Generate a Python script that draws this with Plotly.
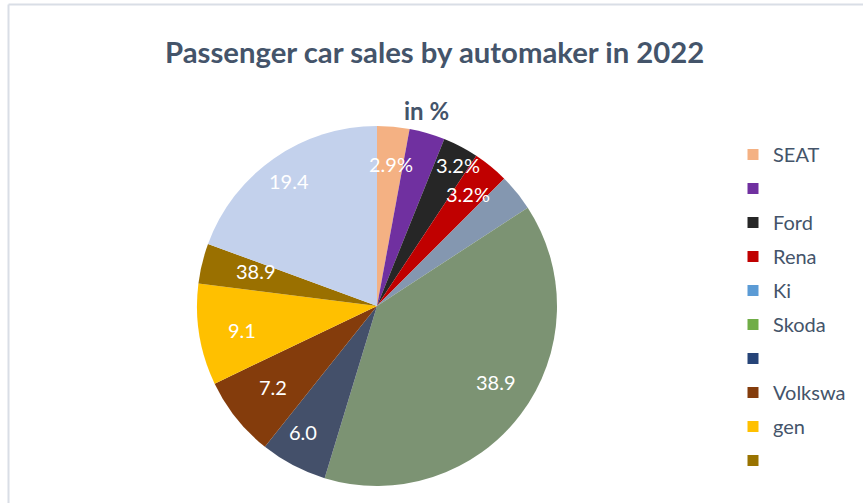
import math
import plotly.graph_objects as go

# ---- data ----
slice_names = ["SEAT", "Purple brand", "Ford", "Renault", "Kia", "Skoda", "Navy brand",
               "Volkswagen", "Yellow brand", "Gold brand", "Other"]
slice_values = [2.9, 3.2, 3.2, 3.2, 3.3, 38.9, 6.0, 7.2, 9.1, 3.6, 19.4]
slice_text = ["2.9%", "", "3.2%", "3.2%", "", "38.9", "6.0", "7.2", "9.1", "38.9", "19.4"]
slice_colors = ["#F4B183", "#7030A0", "#262626", "#C00000", "#8497B0", "#7C9373",
                "#44506A", "#843C0C", "#FFC000", "#9A7000", "#C3D1EC"]

legend_labels = ["SEAT", " ", "Ford", "Rena", "Ki", "Skoda", "  ", "Volkswa", "gen", "   "]
legend_colors = ["#F4B183", "#7030A0", "#262626", "#C00000", "#5B9BD5", "#70AD47",
                 "#264478", "#843C0C", "#FFC000", "#997300"]

title_text = "Passenger car sales by automaker in 2022"
subtitle_text = "in %"

# ---- layout geometry / styling ----
W, H = 863, 503
CX, CY, R = 377, 306, 180   # pie centre / radius in px (from top-left)
TXT = "#44546A"
# radial position of each data label, as a fraction of the radius
label_radius = [0.87, 0.85, 0.97, 0.80, 0.85, 0.83, 0.88, 0.85, 0.85, 0.82, 0.85]

fig = go.Figure()
fig.add_trace(go.Pie(
    labels=slice_names, values=slice_values,
    marker=dict(colors=slice_colors, line=dict(width=0)),
    sort=False, direction="clockwise", rotation=0,
    textinfo="none", hoverinfo="label+value", showlegend=False,
    domain=dict(x=[(CX - R) / W, (CX + R) / W], y=[(H - CY - R) / H, (H - CY + R) / H]),
))

for lab, col in zip(legend_labels, legend_colors):
    fig.add_trace(go.Scatter(
        x=[None], y=[None], mode="markers", name=lab, legendgroup=lab,
        marker=dict(symbol="square", size=11, color=col),
    ))

# data labels placed at each slice's mid angle
total = sum(slice_values)
cum = 0.0
for v, t, rf in zip(slice_values, slice_text, label_radius):
    mid = (cum + v / 2) / total * 2 * math.pi
    cum += v
    if not t:
        continue
    px = CX + rf * R * math.sin(mid)
    py = CY - rf * R * math.cos(mid)
    fig.add_annotation(x=px / W, y=1 - py / H, xref="paper", yref="paper",
                       text=t, showarrow=False,
                       font=dict(family="Lato", size=20, color="white"))

fig.add_annotation(x=434 / W, y=1 - 52 / H, xref="paper", yref="paper",
                   text="<b>" + title_text + "</b>",
                   showarrow=False, font=dict(family="Lato", size=29.3, color=TXT),
                   xanchor="center", yanchor="middle")
fig.add_annotation(x=426 / W, y=1 - 127 / H, xref="paper", yref="paper",
                   text="<b>" + subtitle_text + "</b>",
                   showarrow=False, font=dict(family="Lato", size=24, color=TXT),
                   xanchor="center", yanchor="bottom")

fig.add_shape(type="line", xref="paper", yref="paper",
              x0=8.5 / W, x1=1.01, y0=1 - 4.5 / H, y1=1 - 4.5 / H,
              line=dict(color="#D9DEE6", width=2))
fig.add_shape(type="line", xref="paper", yref="paper",
              x0=8.5 / W, x1=8.5 / W, y0=-0.01, y1=1 - 4.5 / H,
              line=dict(color="#D9DEE6", width=2))

fig.update_layout(
    width=W, height=H, margin=dict(l=0, r=0, t=0, b=0),
    paper_bgcolor="white", plot_bgcolor="white",
    xaxis=dict(visible=False), yaxis=dict(visible=False),
    legend=dict(x=733 / W, y=1 - 135 / H, xanchor="left", yanchor="top",
                font=dict(family="Lato", size=20, color=TXT),
                tracegroupgap=5, itemwidth=30, bgcolor="rgba(0,0,0,0)"),
)

fig.write_html("out.html", config={"displayModeBar": False},
               post_script="document.body.style.margin='0';")
